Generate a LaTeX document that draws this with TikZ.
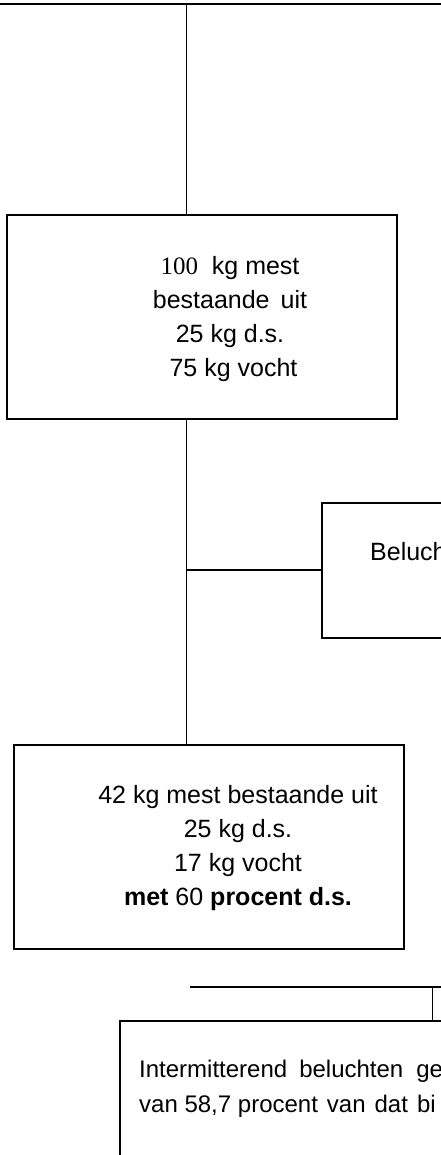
\documentclass[tikz,border=0pt]{standalone}
\usepackage{fontspec}
\setmainfont{Liberation Sans}
\newfontfamily\serifcijfers{Liberation Serif}
\tikzset{
	kader/.style={draw, line width=2pt, inner sep=0pt},
	tekst/.style={inner sep=0pt, align=center, font=\fontsize{25}{34}\selectfont},
	lijn/.style={line width=1pt},
	dik/.style={line width=2pt},
}
\begin{document}
\begin{tikzpicture}[x=1pt,y=-1pt]
		\useasboundingbox (0,0) rectangle (441,1155);
		\clip (0,0) rectangle (441,1155);
		\coordinate (bovenL) at (0,4);
		\coordinate (bovenR) at (441,4);
		\coordinate (in) at (186.5,4);
		\draw[dik] (bovenL) -- (bovenR);
		
		\node[kader, minimum width=390, minimum height=204] (mest) at (202,317) {};
		\node[tekst, anchor=north] (mest-tekst) at (230,256) 
		{{\serifcijfers 100}\ \ kg mest\\bestaande\ \,uit\\25 kg d.s.\\\ 75 kg vocht};
		
		\node[kader, line width=1.5pt, minimum width=200, minimum height=135, 
		anchor=north west] (beluchten) at (321,502) {};
		\node[tekst, anchor=base west] (beluchten-tekst) at (370,560) {Beluch};
		
		\node[kader, minimum width=390, minimum height=204] (gedroogd) at (209,847) {};
		\node[tekst, anchor=north] (gedroogd-tekst) at (238,785) 
		{42 kg mest bestaande uit\\25 kg d.s.\\17 kg vocht\\\textbf{met} 60 \textbf{procent d.s.}};
		
		\node[kader, minimum width=400, minimum height=200, anchor=north west] 
		(intermitterend) at (119,1020) {};
		\node[tekst, anchor=north west, align=left, font=\fontsize{24}{35}\selectfont] 
		(intermitterend-tekst) at (139,1060) 
		{Intermitterend\hspace{12pt}beluchten\hspace{13pt}ge\\
		van 58,7 procent\hspace{9pt}van\hspace{9pt}dat\hspace{9pt}bi};
		
		\draw[lijn] (in) -- (in |- mest.north);
		\draw[lijn] (in |- mest.south) -- (in |- gedroogd.north);
		\draw[line width=1.6pt] (in |- beluchten.west) -- (beluchten.west);
		
		\coordinate (railL) at (190,987);
		\coordinate (railR) at (441,987);
		\coordinate (tak) at (432,987);
		\draw[dik] (railL) -- (railR);
		\draw[lijn] (tak) -- (tak |- intermitterend.north);
\end{tikzpicture}
\end{document}
